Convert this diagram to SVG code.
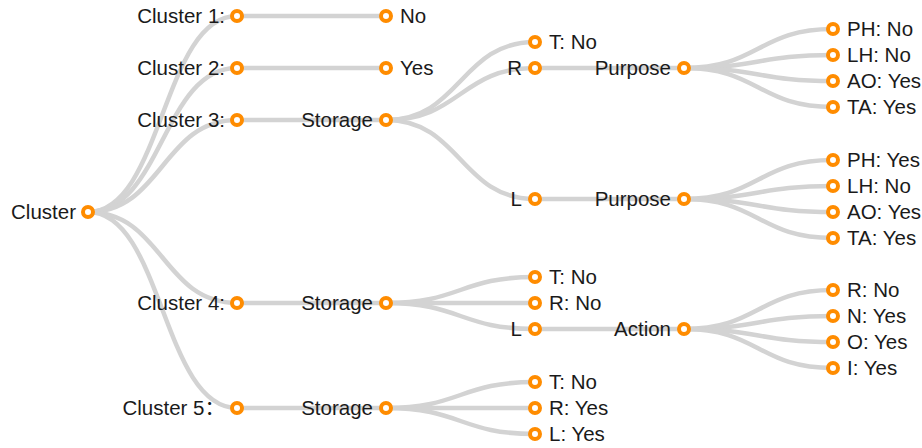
<svg xmlns="http://www.w3.org/2000/svg" width="922" height="448" viewBox="0 0 922 448">
<style>
.link{fill:none;stroke:#d3d3d3;stroke-width:4.5}
.node circle{fill:#fff;stroke:#ff8c00;stroke-width:4}
.node text{font-family:"Liberation Sans",Arial,"Noto Sans CJK SC",sans-serif;font-size:20.5px;fill:#1a1a1a}
.in text{text-anchor:end}
.lf text{text-anchor:start}
</style>
<rect width="922" height="448" fill="#fff"/>
<g id="links">
<path class="link" d="M88,212C162.5,212 162.5,16 237,16"/>
<path class="link" d="M88,212C162.5,212 162.5,68 237,68"/>
<path class="link" d="M88,212C162.5,212 162.5,120 237,120"/>
<path class="link" d="M88,212C162.5,212 162.5,303 237,303"/>
<path class="link" d="M88,212C162.5,212 162.5,408 237,408"/>
<path class="link" d="M237,16L386,16"/>
<path class="link" d="M237,68L386,68"/>
<path class="link" d="M237,120L386,120"/>
<path class="link" d="M237,303L386,303"/>
<path class="link" d="M237,408L386,408"/>
<path class="link" d="M386,120C460.5,120 460.5,42 535,42"/>
<path class="link" d="M386,120C460.5,120 460.5,68 535,68"/>
<path class="link" d="M386,120C460.5,120 460.5,199 535,199"/>
<path class="link" d="M535,68L684,68"/>
<path class="link" d="M535,199L684,199"/>
<path class="link" d="M684,68C758.5,68 758.5,29 833,29"/>
<path class="link" d="M684,68C758.5,68 758.5,55 833,55"/>
<path class="link" d="M684,68C758.5,68 758.5,81 833,81"/>
<path class="link" d="M684,68C758.5,68 758.5,107 833,107"/>
<path class="link" d="M684,199C758.5,199 758.5,160 833,160"/>
<path class="link" d="M684,199C758.5,199 758.5,186 833,186"/>
<path class="link" d="M684,199C758.5,199 758.5,212 833,212"/>
<path class="link" d="M684,199C758.5,199 758.5,238 833,238"/>
<path class="link" d="M386,303C460.5,303 460.5,277 535,277"/>
<path class="link" d="M386,303C460.5,303 460.5,303 535,303"/>
<path class="link" d="M386,303C460.5,303 460.5,329 535,329"/>
<path class="link" d="M535,329L684,329"/>
<path class="link" d="M684,329C758.5,329 758.5,290 833,290"/>
<path class="link" d="M684,329C758.5,329 758.5,316 833,316"/>
<path class="link" d="M684,329C758.5,329 758.5,342 833,342"/>
<path class="link" d="M684,329C758.5,329 758.5,368 833,368"/>
<path class="link" d="M386,408C460.5,408 460.5,382 535,382"/>
<path class="link" d="M386,408C460.5,408 460.5,408 535,408"/>
<path class="link" d="M386,408C460.5,408 460.5,434 535,434"/>
</g>
<g id="n-root" class="node in"><circle cx="88" cy="212" r="5"/><text x="76" y="219">Cluster</text></g>
<g id="n-c1" class="node in"><circle cx="237" cy="16" r="5"/><text x="225" y="23">Cluster 1:</text></g>
<g id="n-c2" class="node in"><circle cx="237" cy="68" r="5"/><text x="225" y="75">Cluster 2:</text></g>
<g id="n-c3" class="node in"><circle cx="237" cy="120" r="5"/><text x="225" y="127">Cluster 3:</text></g>
<g id="n-c4" class="node in"><circle cx="237" cy="303" r="5"/><text x="225" y="310">Cluster 4:</text></g>
<g id="n-c5" class="node in"><circle cx="237" cy="408" r="5"/><text x="225" y="415">Cluster 5：</text></g>
<g id="n-c1-no" class="node lf"><circle cx="386" cy="16" r="5"/><text x="400" y="23">No</text></g>
<g id="n-c2-yes" class="node lf"><circle cx="386" cy="68" r="5"/><text x="400" y="75">Yes</text></g>
<g id="n-c3-st" class="node in"><circle cx="386" cy="120" r="5"/><text x="373" y="127">Storage</text></g>
<g id="n-c4-st" class="node in"><circle cx="386" cy="303" r="5"/><text x="373" y="310">Storage</text></g>
<g id="n-c5-st" class="node in"><circle cx="386" cy="408" r="5"/><text x="373" y="415">Storage</text></g>
<g id="n-c3-t" class="node lf"><circle cx="535" cy="42" r="5"/><text x="549" y="49">T: No</text></g>
<g id="n-c3-r" class="node in"><circle cx="535" cy="68" r="5"/><text x="522" y="75">R</text></g>
<g id="n-c3-l" class="node in"><circle cx="535" cy="199" r="5"/><text x="522" y="206">L</text></g>
<g id="n-c3-rp" class="node in"><circle cx="684" cy="68" r="5"/><text x="671" y="75">Purpose</text></g>
<g id="n-c3-lp" class="node in"><circle cx="684" cy="199" r="5"/><text x="671" y="206">Purpose</text></g>
<g id="n-rp-ph" class="node lf"><circle cx="833" cy="29" r="5"/><text x="847" y="36">PH: No</text></g>
<g id="n-rp-lh" class="node lf"><circle cx="833" cy="55" r="5"/><text x="847" y="62">LH: No</text></g>
<g id="n-rp-ao" class="node lf"><circle cx="833" cy="81" r="5"/><text x="847" y="88">AO: Yes</text></g>
<g id="n-rp-ta" class="node lf"><circle cx="833" cy="107" r="5"/><text x="847" y="114">TA: Yes</text></g>
<g id="n-lp-ph" class="node lf"><circle cx="833" cy="160" r="5"/><text x="847" y="167">PH: Yes</text></g>
<g id="n-lp-lh" class="node lf"><circle cx="833" cy="186" r="5"/><text x="847" y="193">LH: No</text></g>
<g id="n-lp-ao" class="node lf"><circle cx="833" cy="212" r="5"/><text x="847" y="219">AO: Yes</text></g>
<g id="n-lp-ta" class="node lf"><circle cx="833" cy="238" r="5"/><text x="847" y="245">TA: Yes</text></g>
<g id="n-c4-t" class="node lf"><circle cx="535" cy="277" r="5"/><text x="549" y="284">T: No</text></g>
<g id="n-c4-r" class="node lf"><circle cx="535" cy="303" r="5"/><text x="549" y="310">R: No</text></g>
<g id="n-c4-l" class="node in"><circle cx="535" cy="329" r="5"/><text x="522" y="336">L</text></g>
<g id="n-c4-act" class="node in"><circle cx="684" cy="329" r="5"/><text x="671" y="336">Action</text></g>
<g id="n-act-r" class="node lf"><circle cx="833" cy="290" r="5"/><text x="847" y="297">R: No</text></g>
<g id="n-act-n" class="node lf"><circle cx="833" cy="316" r="5"/><text x="847" y="323">N: Yes</text></g>
<g id="n-act-o" class="node lf"><circle cx="833" cy="342" r="5"/><text x="847" y="349">O: Yes</text></g>
<g id="n-act-i" class="node lf"><circle cx="833" cy="368" r="5"/><text x="847" y="375">I: Yes</text></g>
<g id="n-c5-t" class="node lf"><circle cx="535" cy="382" r="5"/><text x="549" y="389">T: No</text></g>
<g id="n-c5-r" class="node lf"><circle cx="535" cy="408" r="5"/><text x="549" y="415">R: Yes</text></g>
<g id="n-c5-l" class="node lf"><circle cx="535" cy="434" r="5"/><text x="549" y="441">L: Yes</text></g>
</svg>
